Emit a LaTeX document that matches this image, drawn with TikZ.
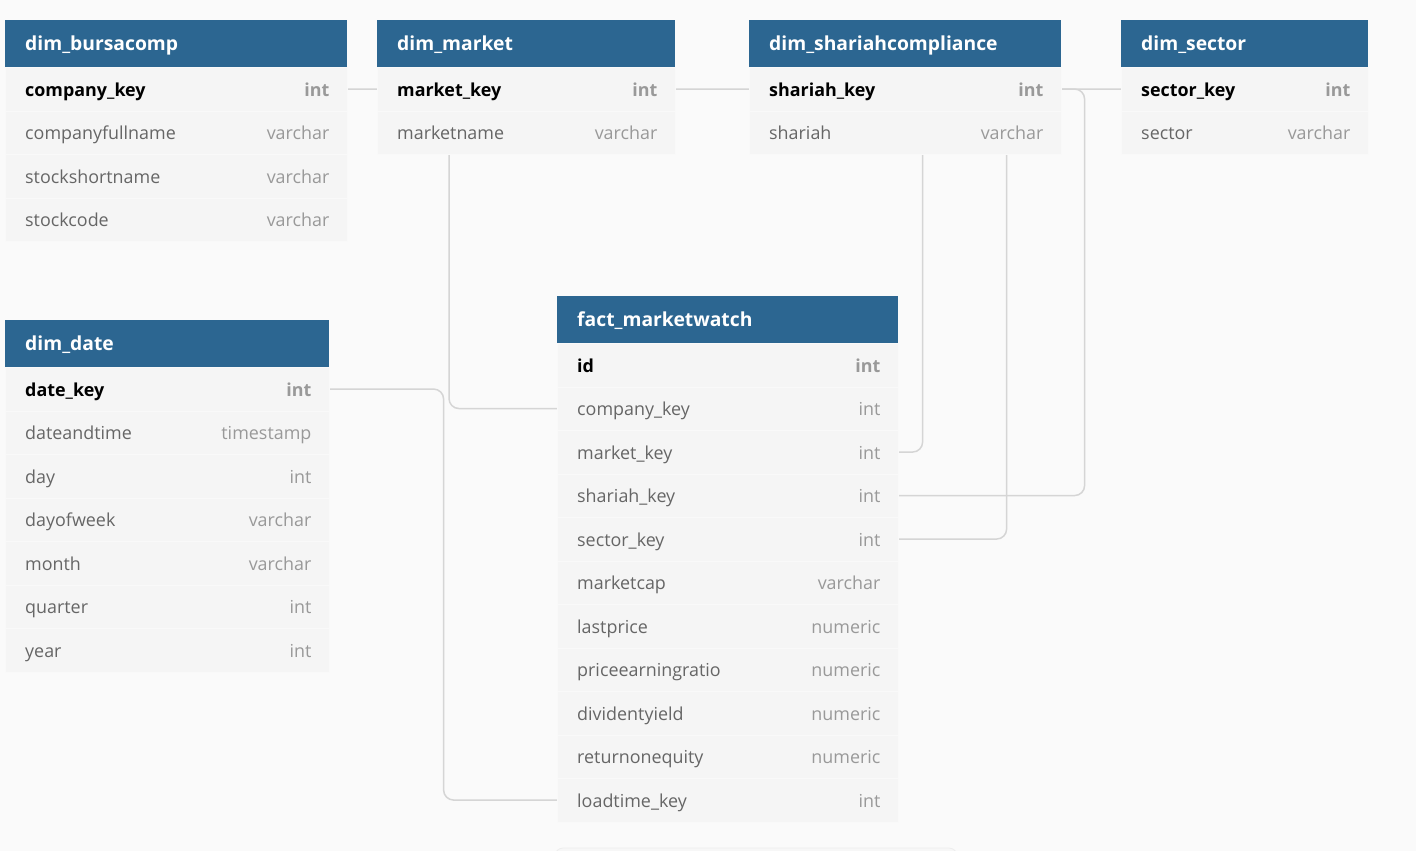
\documentclass[tikz,border=0pt]{standalone}
\usepackage{fontspec}
\setmainfont{Open Sans}
\definecolor{bgcol}{HTML}{FAFAFA}
\definecolor{hdrblue}{HTML}{2C6691}
\definecolor{rowgray}{HTML}{F5F5F5}
\definecolor{rowline}{HTML}{F9F9F9}
\definecolor{fldgray}{HTML}{666666}
\definecolor{typgray}{HTML}{999999}
\definecolor{conncol}{HTML}{D5D5D5}
\pgfdeclarelayer{bg}
\pgfsetlayers{bg,main}
\tikzset{
  x=1pt, y=-1pt,
  hdrbox/.style={fill=hdrblue, draw=none, minimum height=47pt, inner sep=0pt, anchor=north west},
  hdrtxt/.style={text=white, font=\fontsize{19.3}{22}\selectfont\bfseries, anchor=mid west, inner sep=0pt, yshift=-4.5pt},
  rowbox/.style={fill=rowgray, draw=rowline, line width=0.6pt, minimum height=43.5pt, inner sep=0pt, anchor=north west},
  nfld/.style={text=fldgray, font=\fontsize{17.9}{20}\selectfont, anchor=mid west, inner sep=0pt, yshift=-4.5pt},
  kfld/.style={text=black, font=\fontsize{17.9}{20}\selectfont\bfseries, anchor=mid west, inner sep=0pt, yshift=-4.5pt},
  ntyp/.style={text=typgray, font=\fontsize{17.9}{20}\selectfont, anchor=mid east, inner sep=0pt, yshift=-4.5pt},
  ktyp/.style={text=typgray, font=\fontsize{17.9}{20}\selectfont\bfseries, anchor=mid east, inner sep=0pt, yshift=-4.5pt},
  conn/.style={draw=conncol, line width=1.5pt, rounded corners=10pt},
}
\newcommand\ertable[5]{%
  \node[hdrbox, minimum width=#4pt] (#1) at (#2,#3) {};
  \node[hdrtxt] (#1-title) at ([xshift=20pt]#1.west) {#5};
}
\newcommand\errow[7]{%
  \node[rowbox, minimum width=#4pt] (#1) at (#2,#3) {};
  \node[#7fld] (#1-f) at ([xshift=20pt]#1.west) {#5};
  \node[#7typ] (#1-t) at ([xshift=-18pt]#1.east) {#6};
}
\begin{document}
\begin{tikzpicture}
\begin{pgfonlayer}{bg}
  \fill[bgcol] (0,0) rectangle (1416,851);
\end{pgfonlayer}
\useasboundingbox (0,0) rectangle (1416,851);

% faint cut-off element at bottom
\draw[draw=black!7, fill=black!3, line width=0.8pt, rounded corners=8pt] (555,848) rectangle (957,880);

% dim_bursacomp
\ertable{bc}{5}{20}{342}{dim\_bursacomp}
\errow{bc-company}{5}{67}{342}{company\_key}{int}{k}
\errow{bc-fullname}{5}{110.5}{342}{companyfullname}{varchar}{n}
\errow{bc-short}{5}{154}{342}{stockshortname}{varchar}{n}
\errow{bc-code}{5}{197.5}{342}{stockcode}{varchar}{n}

% dim_market
\ertable{mk}{377}{20}{298}{dim\_market}
\errow{mk-market}{377}{67}{298}{market\_key}{int}{k}
\errow{mk-name}{377}{110.5}{298}{marketname}{varchar}{n}

% dim_shariahcompliance
\ertable{sh}{749}{20}{312}{dim\_shariahcompliance}
\errow{sh-shariah}{749}{67}{312}{shariah\_key}{int}{k}
\errow{sh-name}{749}{110.5}{312}{shariah}{varchar}{n}

% dim_sector
\ertable{se}{1121}{20}{247}{dim\_sector}
\errow{se-sector}{1121}{67}{247}{sector\_key}{int}{k}
\errow{se-name}{1121}{110.5}{247}{sector}{varchar}{n}

% dim_date
\ertable{dd}{5}{320}{324}{dim\_date}
\errow{dd-date}{5}{367}{324}{date\_key}{int}{k}
\errow{dd-dt}{5}{410.5}{324}{dateandtime}{timestamp}{n}
\errow{dd-day}{5}{454}{324}{day}{int}{n}
\errow{dd-dow}{5}{497.5}{324}{dayofweek}{varchar}{n}
\errow{dd-month}{5}{541}{324}{month}{varchar}{n}
\errow{dd-quarter}{5}{584.5}{324}{quarter}{int}{n}
\errow{dd-year}{5}{628}{324}{year}{int}{n}

% fact_marketwatch
\ertable{fw}{557}{296}{341}{fact\_marketwatch}
\errow{fw-id}{557}{343}{341}{id}{int}{k}
\errow{fw-company}{557}{386.5}{341}{company\_key}{int}{n}
\errow{fw-market}{557}{430}{341}{market\_key}{int}{n}
\errow{fw-shariah}{557}{473.5}{341}{shariah\_key}{int}{n}
\errow{fw-sector}{557}{517}{341}{sector\_key}{int}{n}
\errow{fw-mcap}{557}{560.5}{341}{marketcap}{varchar}{n}
\errow{fw-last}{557}{604}{341}{lastprice}{numeric}{n}
\errow{fw-per}{557}{647.5}{341}{priceearningratio}{numeric}{n}
\errow{fw-div}{557}{691}{341}{dividentyield}{numeric}{n}
\errow{fw-roe}{557}{734.5}{341}{returnonequity}{numeric}{n}
\errow{fw-load}{557}{778}{341}{loadtime\_key}{int}{n}

% connectors (behind tables)
\begin{pgfonlayer}{bg}
  \draw[conn] (fw-company.west) -- ++(-108,0) |- (bc-company.east);
  \draw[conn] (fw-market.east) -- ++(24,0) |- (mk-market.east);
  \draw[conn] (fw-shariah.east) -- ++(186,0) |- (sh-shariah.east);
  \draw[conn] (fw-sector.east) -- ++(108,0) |- (se-sector.west);
  \draw[conn] (dd-date.east) -- ++(114,0) |- (fw-load.west);
\end{pgfonlayer}
\end{tikzpicture}
\end{document}
